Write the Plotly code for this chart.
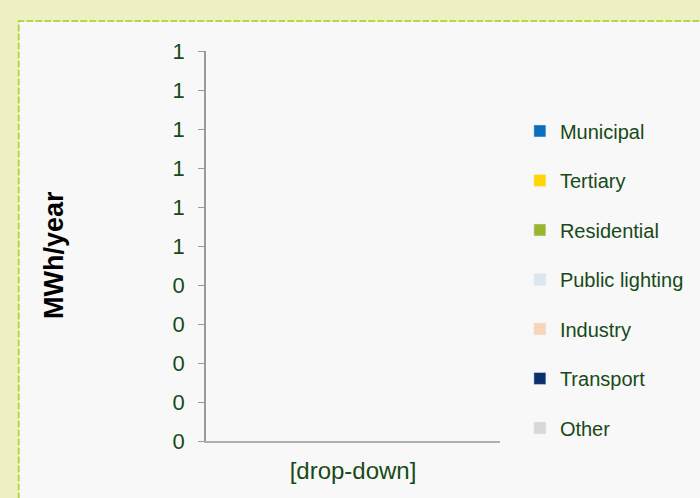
import plotly.graph_objects as go

# chart data (empty template: every sector is 0 for the selected item)
categories = ['[drop-down]']
sectors = ['Municipal', 'Tertiary', 'Residential', 'Public lighting', 'Industry', 'Transport', 'Other']
sector_values = {
    'Municipal': [0],
    'Tertiary': [0],
    'Residential': [0],
    'Public lighting': [0],
    'Industry': [0],
    'Transport': [0],
    'Other': [0],
}
sector_colors = ['#0a6ebd', '#ffd700', '#9ab62e', '#dce6f0', '#fbd4b8', '#0a2f6b', '#d8d8d8']
y_tickvals = [0, 0.1, 0.2, 0.3, 0.4, 0.5, 0.6, 0.7, 0.8, 0.9, 1.0]
y_ticktext = ['0', '0', '0', '0', '0', '1', '1', '1', '1', '1', '1']
y_title = 'MWh/year'

txt_green = '#174a17'
axis_grey = '#999999'
outer_bg = '#eff0c2'
font_family = 'Liberation Sans, Arial, sans-serif'

fig = go.Figure()
for name, col in zip(sectors, sector_colors):
    fig.add_trace(go.Bar(x=categories, y=sector_values[name], name=name,
                         marker_color=col, legendgroup=name, width=0.5))

# light inner panel with dashed border
fig.add_shape(type='rect', xref='paper', yref='paper', x0=-0.637, x1=2.0, y0=-0.5, y1=1.077,
              fillcolor='#f8f8f8', line=dict(color='#b6d846', width=2, dash='7px,2px'), layer='below')

# y title sits a little below the axis centre in the original
fig.add_annotation(text='<b>' + y_title + '</b>', xref='paper', yref='paper', x=-0.519, y=0.478,
                   xanchor='center', yanchor='middle', textangle=-90, showarrow=False,
                   font=dict(size=27, color='black'))

fig.update_layout(
    width=700, height=498,
    margin=dict(l=206, r=199, t=51, b=57),
    paper_bgcolor=outer_bg,
    plot_bgcolor='rgba(0,0,0,0)',
    barmode='stack',
    font=dict(family=font_family, color=txt_green, size=20),
    showlegend=True,
    legend=dict(x=1.064, y=0.845, xanchor='left', yanchor='top',
                traceorder='grouped', tracegroupgap=20.5, bgcolor='rgba(0,0,0,0)',
                font=dict(size=20, color=txt_green)),
)
fig.update_yaxes(range=[0, 1], tickvals=y_tickvals, ticktext=y_ticktext, showgrid=False, zeroline=False,
                 showline=True, linecolor=axis_grey, linewidth=1.5, ticks='outside', ticklen=6,
                 tickcolor=axis_grey, tickfont=dict(size=22, color=txt_green), ticklabelstandoff=9)
fig.update_xaxes(type='category', showgrid=False, showline=True, linecolor='#b0b0b0', linewidth=1.5,
                 ticks='', tickfont=dict(size=24, color=txt_green), ticklabelstandoff=7)

# drop the page's default body margin so the figure fills the window
fig.write_html('out.html', config={'displayModeBar': False},
               post_script="document.body.style.margin='0';"
                           "document.body.style.background='" + outer_bg + "';")
